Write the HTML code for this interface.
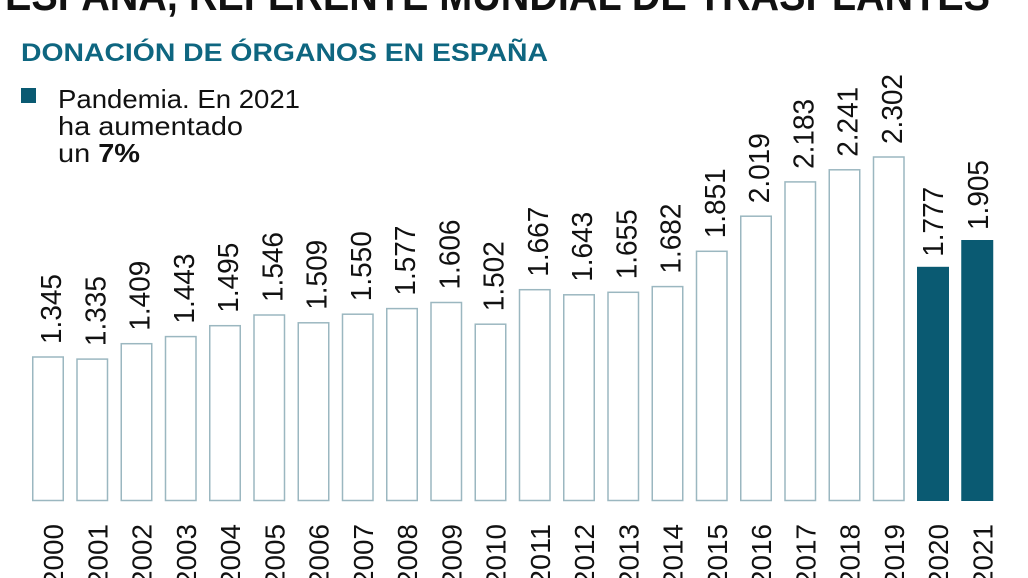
<!DOCTYPE html>
<html><head><meta charset="utf-8"><style>
html,body{margin:0;padding:0;background:#fff;width:1028px;height:578px;overflow:hidden}
svg{display:block}
</style></head><body>
<svg width="1028" height="578" xmlns="http://www.w3.org/2000/svg" font-family="Liberation Sans, sans-serif">
<text x="5" y="10" font-size="44" font-weight="bold" fill="#111" textLength="985" lengthAdjust="spacingAndGlyphs">ESPAÑA, REFERENTE MUNDIAL DE TRASPLANTES</text>
<text x="21" y="61" font-size="25" font-weight="bold" fill="#0e6680" textLength="527" lengthAdjust="spacingAndGlyphs">DONACIÓN DE ÓRGANOS EN ESPAÑA</text>
<rect x="21" y="88" width="15" height="15" fill="#0a5a72"/>
<g font-size="26" fill="#111">
<text x="58" y="108" textLength="242" lengthAdjust="spacingAndGlyphs">Pandemia. En 2021</text>
<text x="58" y="135" textLength="185" lengthAdjust="spacingAndGlyphs">ha aumentado</text>
<text x="58" y="162" textLength="82" lengthAdjust="spacingAndGlyphs">un <tspan font-weight="bold">7%</tspan></text>
</g>
<g fill="#fff" stroke="#9bb7c0" stroke-width="1.5">
<rect x="32.75" y="357.0" width="30.5" height="143.5"/>
<rect x="77" y="359.1" width="30.5" height="141.4"/>
<rect x="121.25" y="343.7" width="30.5" height="156.8"/>
<rect x="165.5" y="336.6" width="30.5" height="163.9"/>
<rect x="209.75" y="325.7" width="30.5" height="174.8"/>
<rect x="254" y="315.0" width="30.5" height="185.5"/>
<rect x="298.25" y="322.8" width="30.5" height="177.7"/>
<rect x="342.5" y="314.2" width="30.5" height="186.3"/>
<rect x="386.75" y="308.6" width="30.5" height="191.9"/>
<rect x="431" y="302.5" width="30.5" height="198"/>
<rect x="475.25" y="324.2" width="30.5" height="176.3"/>
<rect x="519.5" y="289.7" width="30.5" height="210.8"/>
<rect x="563.75" y="294.8" width="30.5" height="205.7"/>
<rect x="608" y="292.3" width="30.5" height="208.2"/>
<rect x="652.25" y="286.6" width="30.5" height="213.9"/>
<rect x="696.5" y="251.3" width="30.5" height="249.2"/>
<rect x="740.75" y="216.2" width="30.5" height="284.3"/>
<rect x="785" y="181.9" width="30.5" height="318.6"/>
<rect x="829.25" y="169.8" width="30.5" height="330.7"/>
<rect x="873.5" y="157.0" width="30.5" height="343.5"/>
</g>
<rect x="917" y="266.8" width="32" height="234.2" fill="#0a5a72"/>
<rect x="961.25" y="240.0" width="32" height="261" fill="#0a5a72"/>
<g font-size="29" fill="#111">
<text transform="translate(61,344) rotate(-90)" textLength="70" lengthAdjust="spacingAndGlyphs">1.345</text>
<text transform="translate(105.25,346.1) rotate(-90)" textLength="70" lengthAdjust="spacingAndGlyphs">1.335</text>
<text transform="translate(149.5,330.7) rotate(-90)" textLength="70" lengthAdjust="spacingAndGlyphs">1.409</text>
<text transform="translate(193.75,323.6) rotate(-90)" textLength="70" lengthAdjust="spacingAndGlyphs">1.443</text>
<text transform="translate(238,312.7) rotate(-90)" textLength="70" lengthAdjust="spacingAndGlyphs">1.495</text>
<text transform="translate(282.25,302) rotate(-90)" textLength="70" lengthAdjust="spacingAndGlyphs">1.546</text>
<text transform="translate(326.5,309.8) rotate(-90)" textLength="70" lengthAdjust="spacingAndGlyphs">1.509</text>
<text transform="translate(370.75,301.2) rotate(-90)" textLength="70" lengthAdjust="spacingAndGlyphs">1.550</text>
<text transform="translate(415,295.6) rotate(-90)" textLength="70" lengthAdjust="spacingAndGlyphs">1.577</text>
<text transform="translate(459.25,289.5) rotate(-90)" textLength="70" lengthAdjust="spacingAndGlyphs">1.606</text>
<text transform="translate(503.5,311.2) rotate(-90)" textLength="70" lengthAdjust="spacingAndGlyphs">1.502</text>
<text transform="translate(547.75,276.7) rotate(-90)" textLength="70" lengthAdjust="spacingAndGlyphs">1.667</text>
<text transform="translate(592,281.8) rotate(-90)" textLength="70" lengthAdjust="spacingAndGlyphs">1.643</text>
<text transform="translate(636.25,279.3) rotate(-90)" textLength="70" lengthAdjust="spacingAndGlyphs">1.655</text>
<text transform="translate(680.5,273.6) rotate(-90)" textLength="70" lengthAdjust="spacingAndGlyphs">1.682</text>
<text transform="translate(724.75,238.3) rotate(-90)" textLength="70" lengthAdjust="spacingAndGlyphs">1.851</text>
<text transform="translate(769,203.2) rotate(-90)" textLength="70" lengthAdjust="spacingAndGlyphs">2.019</text>
<text transform="translate(813.25,168.9) rotate(-90)" textLength="70" lengthAdjust="spacingAndGlyphs">2.183</text>
<text transform="translate(857.5,156.8) rotate(-90)" textLength="70" lengthAdjust="spacingAndGlyphs">2.241</text>
<text transform="translate(901.75,144) rotate(-90)" textLength="70" lengthAdjust="spacingAndGlyphs">2.302</text>
<text transform="translate(943,256.8) rotate(-90)" textLength="70" lengthAdjust="spacingAndGlyphs">1.777</text>
<text transform="translate(988,230) rotate(-90)" textLength="70" lengthAdjust="spacingAndGlyphs">1.905</text>
</g>
<g font-size="28" fill="#111" text-anchor="end">
<text transform="translate(63,524) rotate(-90)" textLength="62" lengthAdjust="spacingAndGlyphs">2000</text>
<text transform="translate(107.25,524) rotate(-90)" textLength="62" lengthAdjust="spacingAndGlyphs">2001</text>
<text transform="translate(151.5,524) rotate(-90)" textLength="62" lengthAdjust="spacingAndGlyphs">2002</text>
<text transform="translate(195.75,524) rotate(-90)" textLength="62" lengthAdjust="spacingAndGlyphs">2003</text>
<text transform="translate(240,524) rotate(-90)" textLength="62" lengthAdjust="spacingAndGlyphs">2004</text>
<text transform="translate(284.25,524) rotate(-90)" textLength="62" lengthAdjust="spacingAndGlyphs">2005</text>
<text transform="translate(328.5,524) rotate(-90)" textLength="62" lengthAdjust="spacingAndGlyphs">2006</text>
<text transform="translate(372.75,524) rotate(-90)" textLength="62" lengthAdjust="spacingAndGlyphs">2007</text>
<text transform="translate(417,524) rotate(-90)" textLength="62" lengthAdjust="spacingAndGlyphs">2008</text>
<text transform="translate(461.25,524) rotate(-90)" textLength="62" lengthAdjust="spacingAndGlyphs">2009</text>
<text transform="translate(505.5,524) rotate(-90)" textLength="62" lengthAdjust="spacingAndGlyphs">2010</text>
<text transform="translate(549.75,524) rotate(-90)" textLength="62" lengthAdjust="spacingAndGlyphs">2011</text>
<text transform="translate(594,524) rotate(-90)" textLength="62" lengthAdjust="spacingAndGlyphs">2012</text>
<text transform="translate(638.25,524) rotate(-90)" textLength="62" lengthAdjust="spacingAndGlyphs">2013</text>
<text transform="translate(682.5,524) rotate(-90)" textLength="62" lengthAdjust="spacingAndGlyphs">2014</text>
<text transform="translate(726.75,524) rotate(-90)" textLength="62" lengthAdjust="spacingAndGlyphs">2015</text>
<text transform="translate(771,524) rotate(-90)" textLength="62" lengthAdjust="spacingAndGlyphs">2016</text>
<text transform="translate(815.25,524) rotate(-90)" textLength="62" lengthAdjust="spacingAndGlyphs">2017</text>
<text transform="translate(859.5,524) rotate(-90)" textLength="62" lengthAdjust="spacingAndGlyphs">2018</text>
<text transform="translate(903.75,524) rotate(-90)" textLength="62" lengthAdjust="spacingAndGlyphs">2019</text>
<text transform="translate(948,524) rotate(-90)" textLength="62" lengthAdjust="spacingAndGlyphs">2020</text>
<text transform="translate(992.25,524) rotate(-90)" textLength="62" lengthAdjust="spacingAndGlyphs">2021</text>
</g>
</svg>
</body></html>
